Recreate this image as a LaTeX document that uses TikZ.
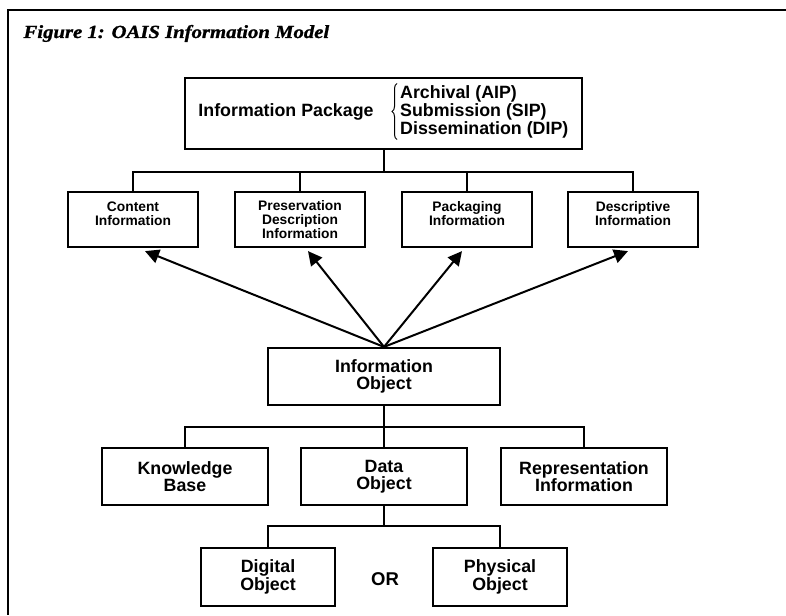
\documentclass[tikz,border=0pt]{standalone}
\usepackage{fontspec}
\setsansfont{Liberation Sans}
\newfontfamily\titlefont[FakeStretch=1.12,FakeBold=1.2]{Liberation Serif}
\usetikzlibrary{arrows.meta,decorations.pathreplacing}
\tikzset{
  box/.style={draw,line width=2.2pt,align=center,inner sep=0pt,
    font=\sffamily\bfseries\fontsize{17.8}{17.5}\selectfont},
  smallbox/.style={box,minimum width=130pt,minimum height=55pt,
    font=\sffamily\bfseries\fontsize{13.8}{14}\selectfont},
  boxtext/.style={inner sep=0pt,font=\sffamily\bfseries\fontsize{17.8}{18}\selectfont},
  link/.style={line width=2pt},
  arr/.style={line width=2pt,-{Triangle[length=14pt,width=14pt]}}
}

\begin{document}
\begin{tikzpicture}[x=1pt,y=-1pt]
  \useasboundingbox (0,0) rectangle (786,615);
  % frame and caption
  \draw[line width=2pt] (786,10) -- (8,10) -- (8,615);
  \node[anchor=base west,font=\titlefont\bfseries\itshape\fontsize{18.5}{20}\selectfont] (title) at (20,38) {Figure 1: OAIS Information Model};

  % boxes
  \node[box,minimum width=397pt,minimum height=71pt] (ip) at (383.5,113.5) {};
  \node[boxtext] (ipname) at (286,112) {Information Package};
  \node[boxtext,anchor=west,align=left] (iptypes) at (400,112)
    {Archival (AIP)\\Submission (SIP)\\Dissemination (DIP)};
  \draw[line width=1pt,decorate,decoration={brace,amplitude=5pt}]
    ([xshift=-3pt,yshift=-1pt]iptypes.south west) -- ([xshift=-3pt,yshift=2pt]iptypes.north west);
  \node[smallbox,text depth=12pt] (ci) at (133,219.5) {Content\\Information};
  \node[smallbox] (pdi) at (300,219.5) {Preservation\\Description\\Information};
  \node[smallbox,text depth=12pt] (pki) at (467,219.5) {Packaging\\Information};
  \node[smallbox,text depth=12pt] (di) at (633,219.5) {Descriptive\\Information};
  \node[box,minimum width=232pt,minimum height=57pt] (io) at (384,376.5) {Information\\Object};
  \node[box,minimum width=166pt,minimum height=57pt] (kb) at (185,476.5) {Knowledge\\Base};
  \node[box,minimum width=166pt,minimum height=57pt] (do) at (384,476.5) {Data\\Object};
  \node[box,minimum width=166pt,minimum height=57pt] (ri) at (584,476.5) {Representation\\Information};
  \node[box,minimum width=134pt,minimum height=58pt] (dig) at (268,577) {Digital\\Object};
  \node[box,minimum width=134pt,minimum height=58pt] (phy) at (500,577) {Physical\\Object};
  \node[font=\sffamily\bfseries\fontsize{18.5}{18}\selectfont] (or) at (385,579) {OR};

  % tree links
  \draw[link] (ip.south) -- ++(0,22) coordinate (ipbar);
  \draw[link] (ci.north) |- (ipbar) -| (di.north);
  \draw[link] (pdi.north) -- (pdi.north |- ipbar);
  \draw[link] (pki.north) -- (pki.north |- ipbar);
  \draw[link] (io.south) -- ++(0,21) coordinate (iobar);
  \draw[link] (kb.north) |- (iobar) -| (ri.north);
  \draw[link] (do.north) -- (do.north |- iobar);
  \draw[link] (do.south) -- ++(0,20) coordinate (dobar);
  \draw[link] (dig.north) |- (dobar) -| (phy.north);

  % arrows up to the four kinds of information
  \foreach \n/\dx in {ci/12,pdi/8,pki/-5,di/-5}
    \draw[arr] (io.north) -- ([xshift=\dx pt,yshift=-3pt]\n.south);
\end{tikzpicture}
\end{document}
